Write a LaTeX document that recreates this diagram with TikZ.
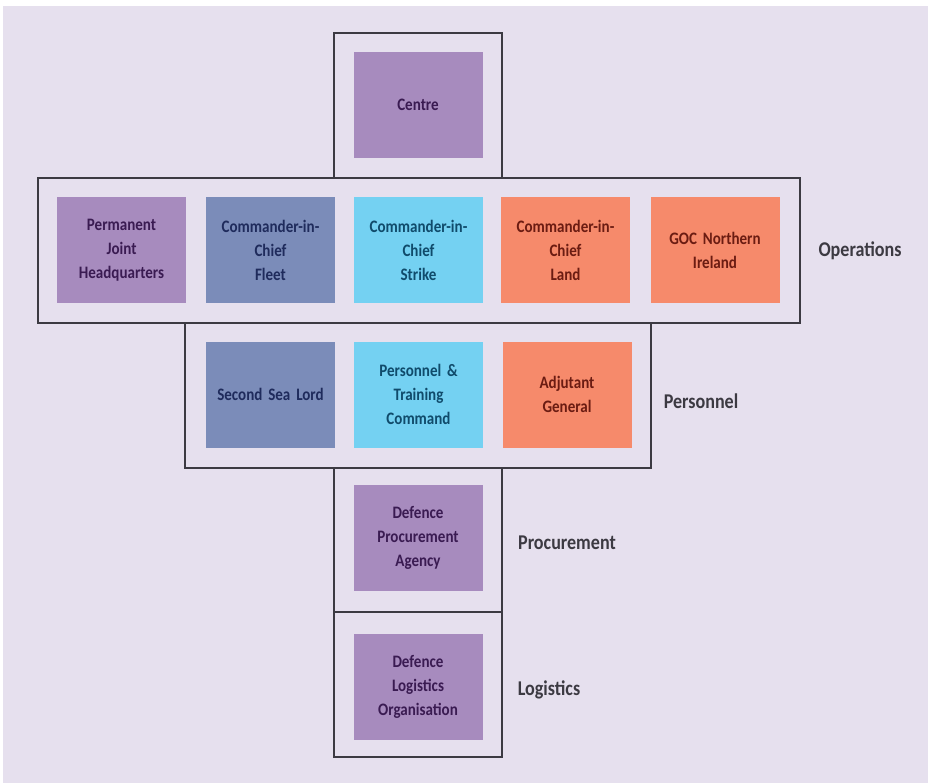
\documentclass[tikz,border=0pt]{standalone}
\usepackage{fontspec}
\setmainfont{Carlito}[FakeStretch=0.86]
\usetikzlibrary{positioning}

\definecolor{bgLav}{HTML}{E6E0EE}
\definecolor{frameGrey}{HTML}{3C3A42}
\definecolor{boxPurple}{HTML}{A78BBE}
\definecolor{boxNavy}{HTML}{7B8CB9}
\definecolor{boxCyan}{HTML}{74D1F2}
\definecolor{boxOrange}{HTML}{F68A6B}
\definecolor{txtPurple}{HTML}{3A1B52}
\definecolor{txtNavy}{HTML}{1F2B5C}
\definecolor{txtCyan}{HTML}{104B6B}
\definecolor{txtOrange}{HTML}{6B1C12}

\begin{document}
\begin{tikzpicture}[
    x=1pt, y=-1pt,
    frame/.style={rectangle, draw=frameGrey, line width=1.8pt, inner sep=0pt, minimum width=168pt, minimum height=145pt},
    unit/.style={rectangle, inner sep=0pt, minimum width=129pt, minimum height=106pt, text width=122pt, align=center, font=\bfseries\fontsize{17.5}{24}\selectfont},
    purple/.style={unit, fill=boxPurple, text=txtPurple},
    navy/.style={unit, fill=boxNavy, text=txtNavy},
    cyan/.style={unit, fill=boxCyan, text=txtCyan},
    orange/.style={unit, fill=boxOrange, text=txtOrange},
    group/.style={font=\bfseries\fontsize{21}{24}\selectfont, text=frameGrey}
]
\fill[white] (0,0) rectangle (928,783);
\fill[bgLav] (3,6) rectangle (928,783);
\useasboundingbox (0,0) rectangle (928,783);

% frames
\node[frame] (centreFrame) at (418,105.5) {};
\node[frame, minimum width=762pt] (opsFrame) at (419,250.5) {};
\node[frame, minimum width=466pt] (persFrame) at (418,395.5) {};
\node[frame, minimum height=144pt] (procFrame) at (418,540) {};
\node[frame] (logFrame) at (418,684.5) {};

% units
\node[purple] (centre) at (418,105) {Centre};

\node[purple] (pjhq) at (121.5,250) {Permanent\\Joint\\Headquarters};
\node[navy] (fleet) at (270.5,250) {Commander-in-\\Chief\\Fleet};
\node[cyan] (strike) at (418.5,250) {Commander-in-\\Chief\\Strike};
\node[orange] (land) at (565.5,250) {Commander-in-\\Chief\\Land};
\node[orange] (gocni) at (715,250) {GOC Northern\\Ireland};

\node[navy] (seaLord) at (270.5,394.5) {Second Sea Lord};
\node[cyan] (ptc) at (418.5,394.5) {Personnel \&\\Training\\Command};
\node[orange] (adjGen) at (567,394.5) {Adjutant\\General};

\node[purple] (dpa) at (418,537.5) {Defence\\Procurement\\Agency};
\node[purple] (dlo) at (418,686.5) {Defence\\Logistics\\Organisation};

% group labels
\node[group] (opsLabel) at (860,251) {Operations};
\node[group] (persLabel) at (701,401) {Personnel};
\node[group] (procLabel) at (567,543) {Procurement};
\node[group] (logLabel) at (549,690) {Logistics};
\end{tikzpicture}
\end{document}
